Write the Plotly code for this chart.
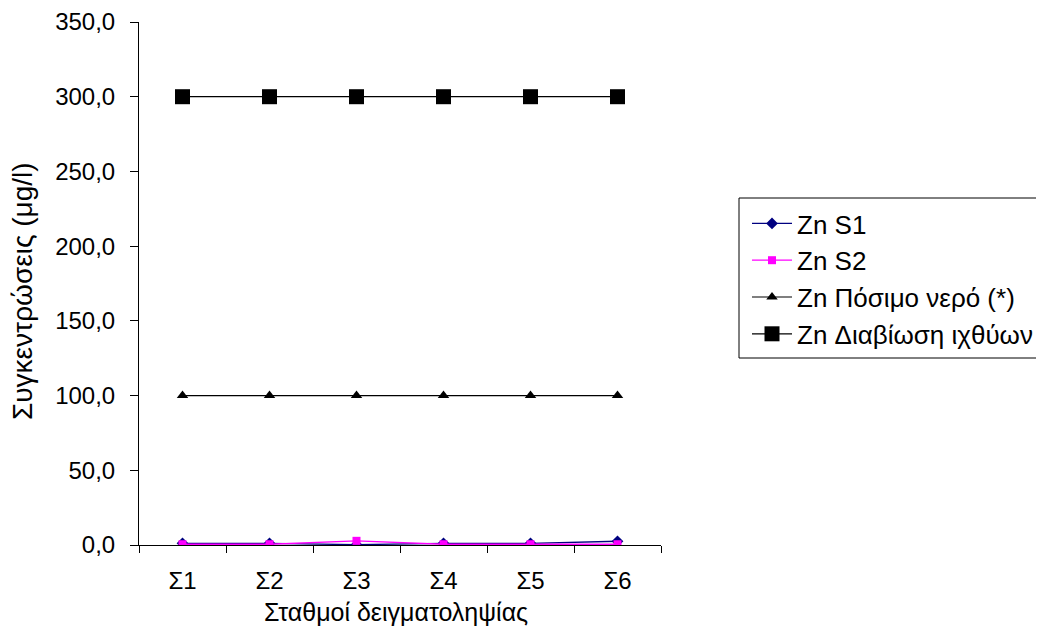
import plotly.graph_objects as go

stations = ["Σ1", "Σ2", "Σ3", "Σ4", "Σ5", "Σ6"]
zn_s1 = [1.1, 1.1, 0.2, 1.1, 1.1, 2.5]
zn_s2 = [0.5, 0.5, 2.8, 0.5, 0.5, 0.5]
zn_drinking = [100, 100, 100, 100, 100, 100]
zn_fish = [300, 300, 300, 300, 300, 300]
x_title = "Σταθμοί δειγματοληψίας"
y_title = "Συγκεντρώσεις (μg/l)"

FONT = "Liberation Sans, Arial, sans-serif"

fig = go.Figure()
fig.add_trace(go.Scatter(x=stations, y=zn_s1, name="Zn S1", mode="lines+markers",
                         line=dict(color="#000080", width=1.3),
                         marker=dict(symbol="diamond", size=9, color="#000080"),
                         legendgroup="a"))
fig.add_trace(go.Scatter(x=stations, y=zn_s2, name="Zn S2", mode="lines+markers",
                         line=dict(color="#FF00FF", width=1.3),
                         marker=dict(symbol="square", size=8, color="#FF00FF"),
                         legendgroup="b"))
fig.add_trace(go.Scatter(x=stations, y=zn_drinking, name="Zn Πόσιμο νερό (*)", mode="lines+markers",
                         line=dict(color="black", width=1.2),
                         marker=dict(symbol="triangle-up", size=10, color="black"),
                         legendgroup="c"))
fig.add_trace(go.Scatter(x=stations, y=zn_fish, name="Zn Διαβίωση ιχθύων", mode="lines+markers",
                         line=dict(color="black", width=1.2),
                         marker=dict(symbol="square", size=15, color="black"),
                         legendgroup="d"))

# plot area in figure pixels: x 131..653, y 14..537
PL, PT, PW, PH = 131, 14, 522, 523


def px(x):
    return (x - PL) / PW


def py(y):
    return (PT + PH - y) / PH


fig.update_layout(
    width=1036, height=634,
    margin=dict(l=131, r=383, t=14, b=97, autoexpand=False),
    paper_bgcolor="white", plot_bgcolor="white",
    font=dict(family=FONT, size=24, color="black"),
    separators=",.",
    showlegend=True,
    legend=dict(x=px(739), y=py(192), xanchor="left", yanchor="top",
                borderwidth=0, bgcolor="rgba(0,0,0,0)",
                font=dict(size=26), tracegroupgap=15, traceorder="normal",
                itemwidth=40),
    xaxis=dict(type="category", range=[-0.5, 5.5], tickson="boundaries",
               ticks="outside", ticklen=7, tickcolor="black",
               showline=True, linecolor="black", linewidth=1, showgrid=False,
               zeroline=False, ticklabelstandoff=14,
               tickfont=dict(size=24)),
    yaxis=dict(range=[0, 350], dtick=50, tickformat=".1f",
               ticks="outside", ticklen=8, tickcolor="black",
               showline=True, linecolor="black", linewidth=1, showgrid=False,
               zeroline=False, ticklabelstandoff=10,
               tickfont=dict(size=24)),
    shapes=[dict(type="rect", xref="paper", yref="paper",
                 x0=px(731), x1=px(1045), y0=py(350), y1=py(190),
                 line=dict(color="black", width=1), fillcolor="rgba(0,0,0,0)",
                 layer="below")],
    annotations=[
        dict(text=x_title, xref="paper", yref="paper", x=px(388), y=py(604),
             xanchor="center", yanchor="middle", showarrow=False,
             font=dict(size=25)),
        dict(text=y_title, xref="paper", yref="paper", x=px(14), y=py(283),
             xanchor="center", yanchor="middle", showarrow=False, textangle=-90,
             font=dict(size=28)),
    ],
)

fig.write_html("out.html")
